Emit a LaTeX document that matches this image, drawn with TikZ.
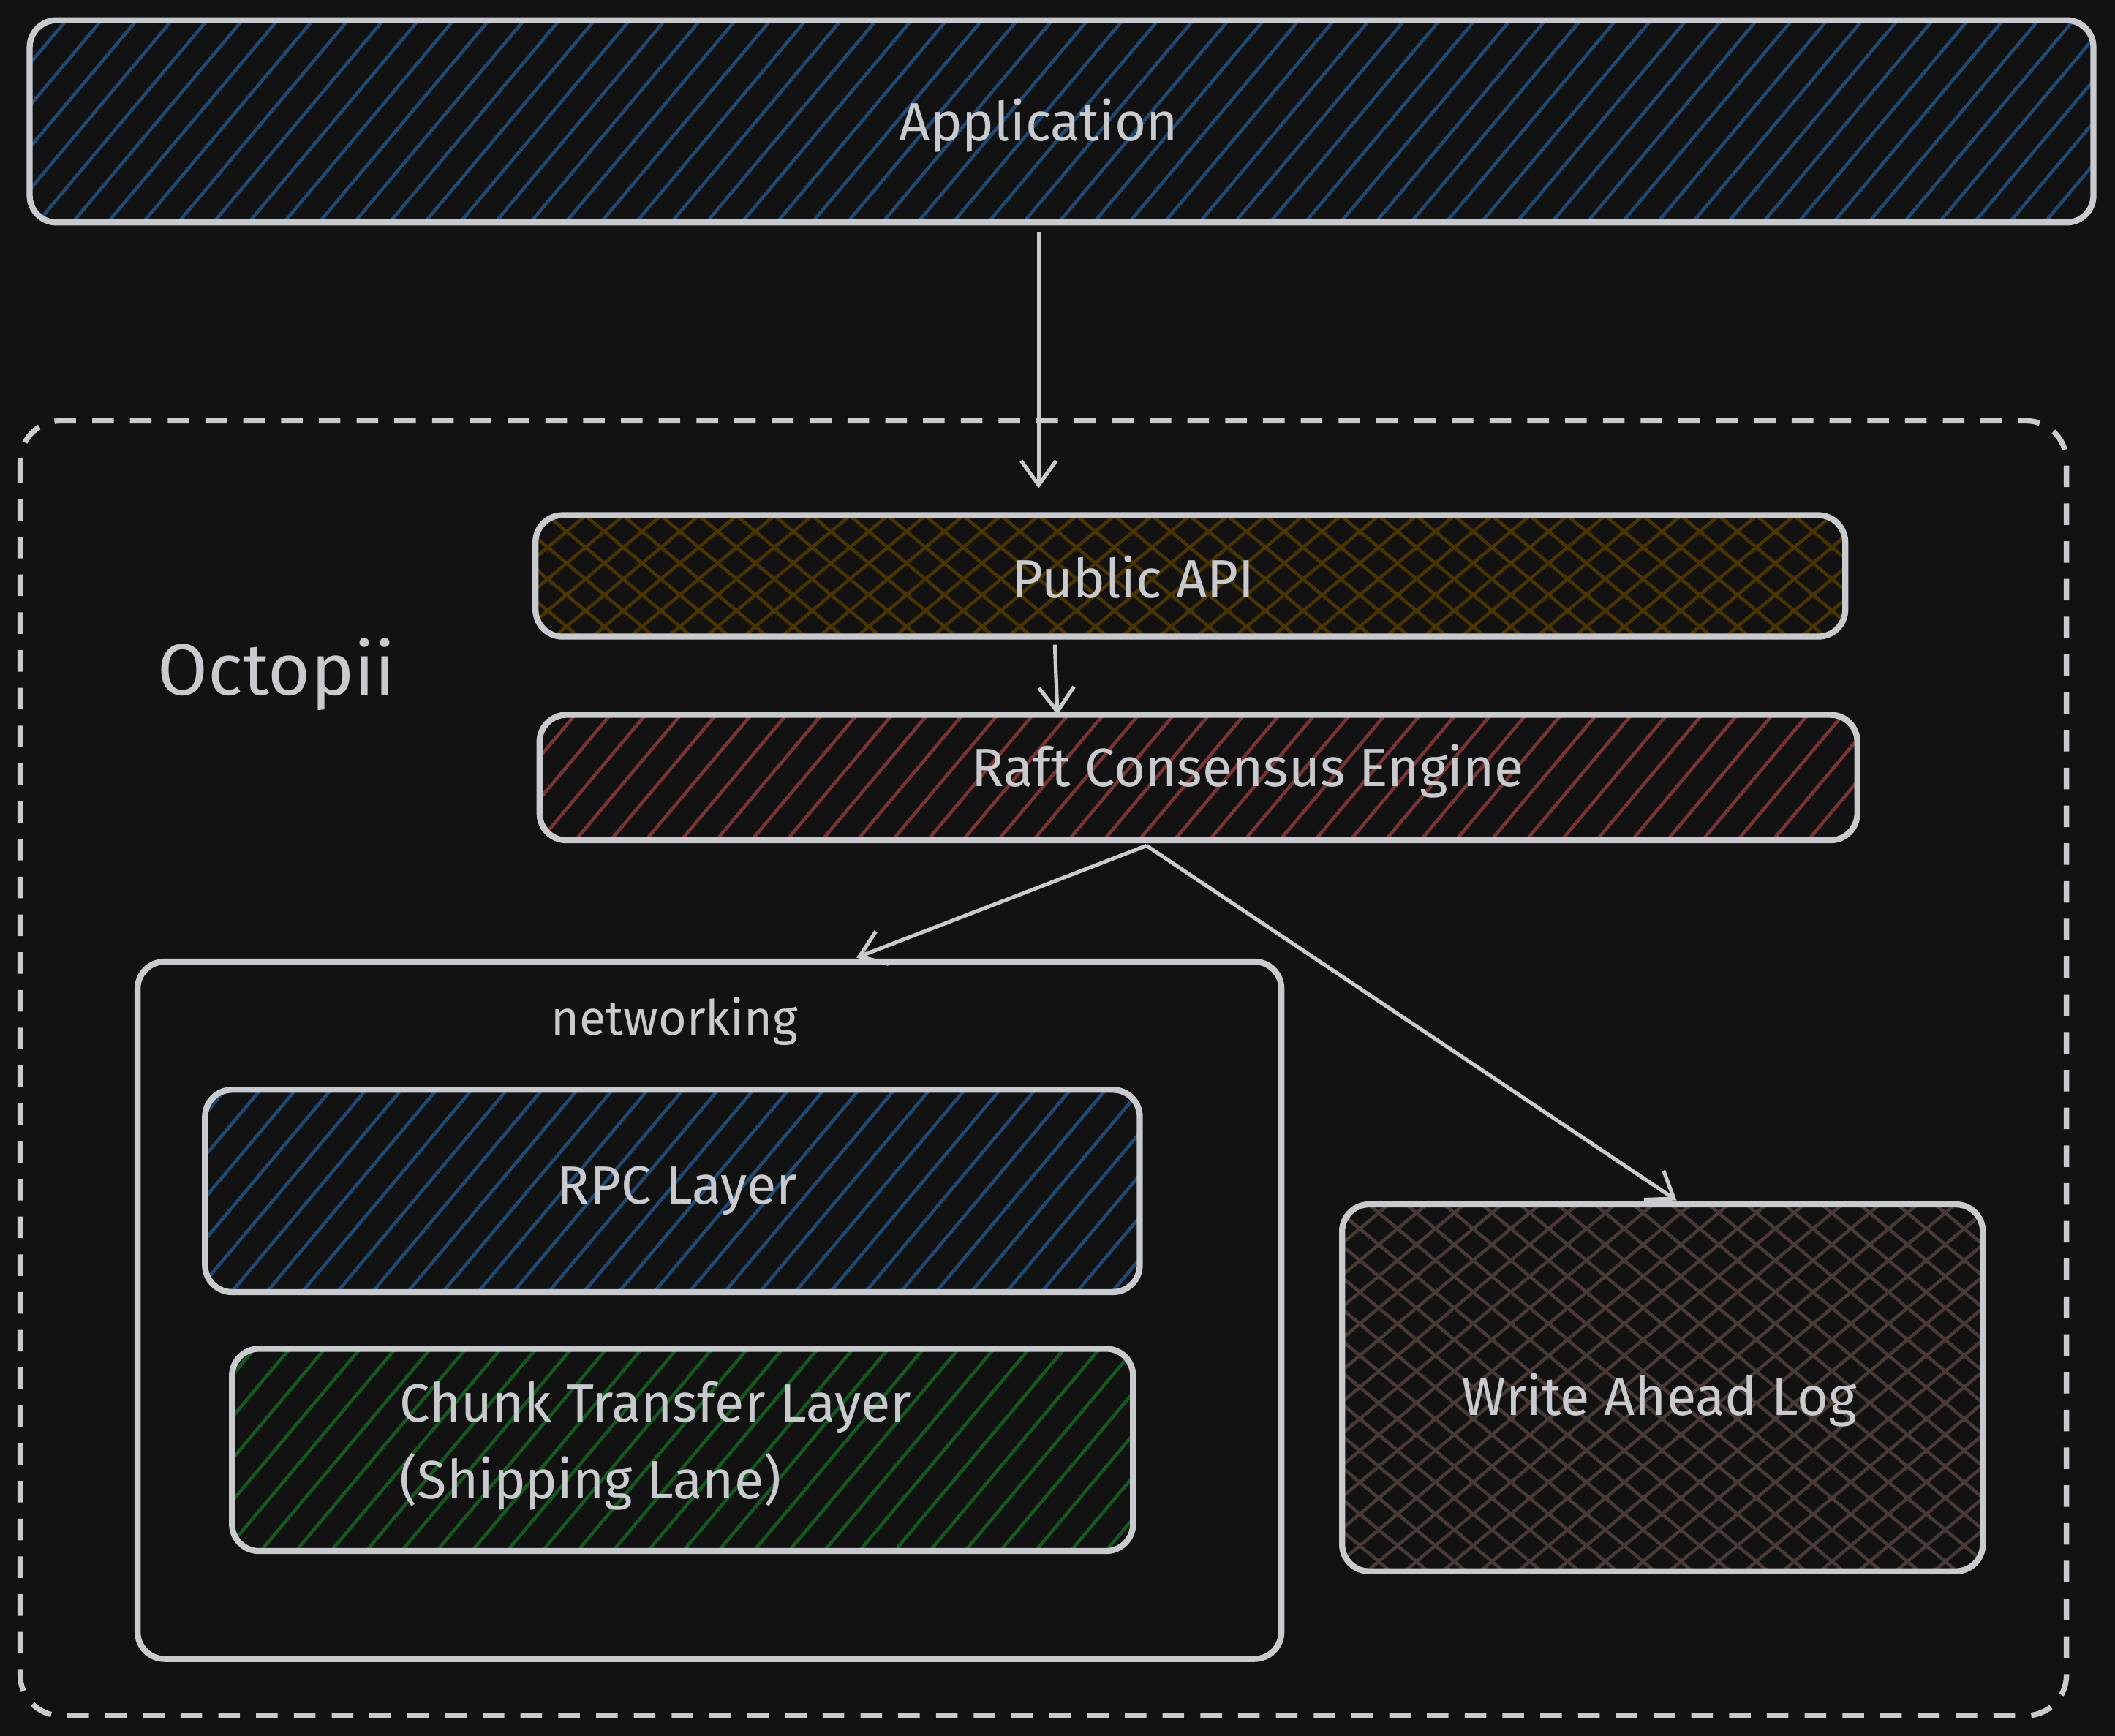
\documentclass[tikz,border=0pt]{standalone}
\usepackage{fontspec}
\setmainfont{Fira Sans}
\usetikzlibrary{patterns.meta,arrows.meta}
\definecolor{bg}{HTML}{121212}
\definecolor{st}{HTML}{C8CACE}
\definecolor{hblue}{HTML}{1F4A75}
\definecolor{hred}{HTML}{7A3434}
\definecolor{horange}{HTML}{4A3400}
\definecolor{hgreen}{HTML}{145A1E}
\definecolor{hbrown}{HTML}{4A3A36}
\begin{document}
\begin{tikzpicture}[x=1pt,y=-1pt,
 box/.style={draw=st,line width=4.5pt,rounded corners=20pt},
 hatch/.style={box,preaction={fill=bg},preaction={pattern={Lines[angle=50,distance=20pt,line width=2.5pt]},pattern color=#1}},
 cross/.style={box,preaction={fill=bg},preaction={pattern={Lines[angle=40,distance=18pt,line width=2.5pt]},pattern color=#1},preaction={pattern={Lines[angle=-40,distance=18pt,line width=2.5pt]},pattern color=#1}},
 lbl/.style={text=st,font=\fontsize{40}{57}\selectfont},
 arr/.style={draw=st,line width=2.8pt,-{Straight Barb[length=18pt,width=26pt]}}]
\fill[bg] (0,0) rectangle (1568,1287);
\useasboundingbox (0,0) rectangle (1568,1287);
\draw[st,line width=4pt,dash pattern=on 16pt off 12pt,rounded corners=30pt] (15,312) rectangle (1532,1272);
\node[lbl,font=\fontsize{54}{60}\selectfont] (oct) at (205,500) {Octopii};
\path[hatch=hblue] (22,15) rectangle (1552,165);
\node[lbl] (app) at (770,93) {Application};
\coordinate (appb) at (770,172);
\path[cross=horange] (397,382) rectangle (1368,472);
\node[lbl] (api) at (840,428) {Public API};
\coordinate (apit) at (770,362);
\draw[arr] (appb) -- (apit);
\path[hatch=hred] (400,530) rectangle (1377,623);
\node[lbl] (raft) at (925,572) {Raft Consensus Engine};
\draw[arr] (782,478) -- (784,530);
\path[box] (102,713) rectangle (950,1230);
\node[lbl,font=\fontsize{36}{40}\selectfont] (net) at (500,757) {networking};
\path[hatch=hblue] (152,808) rectangle (845,958);
\node[lbl] (rpc) at (502,883) {RPC Layer};
\path[hatch=hgreen] (172,1000) rectangle (840,1150);
\node[lbl,align=left,anchor=west] (chunk) at (293,1072) {Chunk Transfer Layer\\(Shipping Lane)};
\path[cross=hbrown] (995,893) rectangle (1470,1165);
\node[lbl] (wal) at (1230,1038) {Write Ahead Log};
\coordinate (rb) at (850,627);
\draw[arr] (rb) -- (635,710);
\draw[arr] (rb) -- (1243,890);
\end{tikzpicture}
\end{document}
